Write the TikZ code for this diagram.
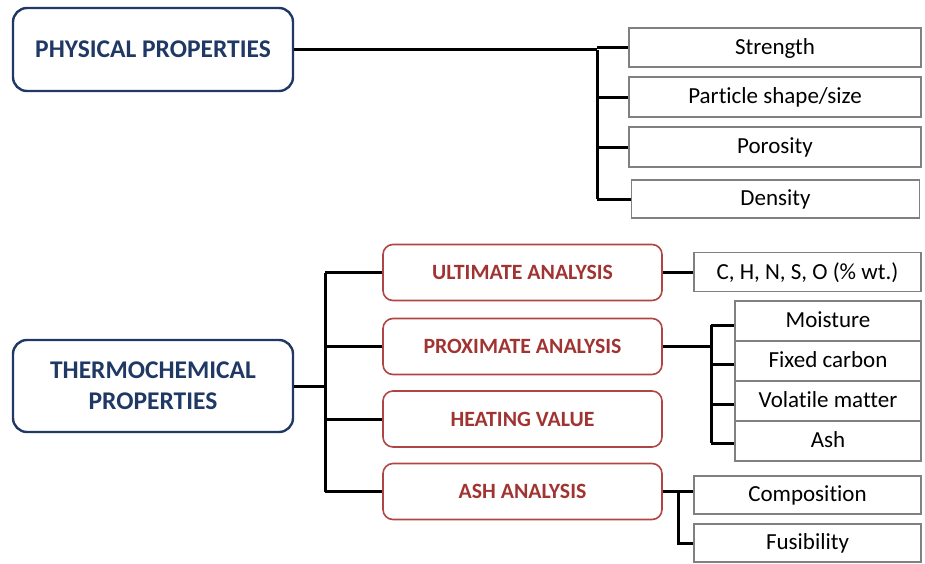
\documentclass[tikz,border=0pt]{standalone}
\usepackage{fontspec}
\setmainfont{Carlito}[Ligatures=NoCommon]
\definecolor{navy}{RGB}{31,56,100}
\definecolor{redbord}{RGB}{176,70,68}
\definecolor{redtxt}{RGB}{160,52,50}
\definecolor{graybord}{RGB}{128,128,128}
\begin{document}
\begin{tikzpicture}[x=1pt,y=-1pt,
  mainbox/.style={draw=navy,line width=2.4pt,rounded corners=14pt,text=navy,font=\fontsize{25.5}{31}\selectfont\bfseries,align=center,minimum width=280pt,inner sep=0pt},
  redbox/.style={draw=redbord,line width=1.6pt,rounded corners=10pt,text=redtxt,font=\fontsize{21.8}{24}\selectfont\bfseries,minimum width=279pt,minimum height=56pt,inner sep=0pt},
  leaf/.style={draw=graybord,line width=1.3pt,font=\fontsize{23}{26}\selectfont,minimum height=39pt,inner sep=0pt,text depth=2pt},
  conn/.style={draw=black,line width=3pt}]
\useasboundingbox (0,0) rectangle (925,563);
% physical
\node[mainbox,minimum height=83pt] (phys) at (153,49.5) {PHYSICAL PROPERTIES};
\node[leaf,minimum width=292pt] (str) at (775,47.5) {Strength};
\node[leaf,minimum width=292pt,minimum height=40pt] (part) at (775,97) {Particle shape/size};
\node[leaf,minimum width=292pt,minimum height=40pt] (por) at (775,147) {Porosity};
\node[leaf,minimum width=288pt,minimum height=38pt] (den) at (775.5,199) {Density};
\coordinate (tp) at (597,0);
\draw[conn] (phys.east) -- (phys.east -| tp);
\draw[conn] (tp |- phys.east) -- (tp |- den.west);
\draw[conn] (tp |- str.west) -- (str.west);
\draw[conn] (tp |- part.west) -- (part.west);
\draw[conn] (tp |- por.west) -- (por.west);
\draw[conn] (tp |- den.west) -- (den.west);
% thermochemical
\node[mainbox,minimum height=92pt] (thermo) at (153,386) {THERMOCHEMICAL\\PROPERTIES};
\node[redbox] (ult) at (522.5,272.5) {ULTIMATE ANALYSIS};
\node[redbox] (prox) at (522.5,346.5) {PROXIMATE ANALYSIS};
\node[redbox] (heat) at (522.5,419) {HEATING VALUE};
\node[redbox] (ash) at (522.5,491.5) {ASH ANALYSIS};
\coordinate (tt) at (325,0);
\draw[conn] (thermo.east) -- (thermo.east -| tt);
\draw[conn] (tt |- ult.west) -- (tt |- ash.west);
\draw[conn] (tt |- ult.west) -- (ult.west);
\draw[conn] (tt |- prox.west) -- (prox.west);
\draw[conn] (tt |- heat.west) -- (heat.west);
\draw[conn] (tt |- ash.west) -- (ash.west);
% ultimate
\node[leaf,minimum width=227pt] (chn) at (807.5,272) {C, H, N, S, O (\% wt.)};
\draw[conn] (ult.east) -- (ult.east -| chn.west);
% proximate
\node[leaf,minimum width=186pt,minimum height=40pt] (moist) at (828,321) {Moisture};
\node[leaf,minimum width=186pt,minimum height=40pt] (fix) at (828,361) {Fixed carbon};
\node[leaf,minimum width=186pt,minimum height=40pt] (vol) at (828,401) {Volatile matter};
\node[leaf,minimum width=186pt,minimum height=40pt] (ashc) at (828,441) {Ash};
\coordinate (tx) at (711,0);
\draw[conn] (prox.east) -- (prox.east -| tx);
\draw[conn] ([yshift=-4pt]tx |- moist.west) -- ([yshift=-2pt]tx |- ashc.west);
\draw[conn] ([yshift=-4pt]tx |- moist.west) -- ([yshift=-4pt]moist.west);
\draw[conn] ([yshift=-3pt]tx |- fix.west) -- ([yshift=-3pt]fix.west);
\draw[conn] ([yshift=-3pt]tx |- vol.west) -- ([yshift=-3pt]vol.west);
\draw[conn] ([yshift=-2pt]tx |- ashc.west) -- ([yshift=-2pt]ashc.west);
% ash analysis
\node[leaf,minimum width=227pt,minimum height=38pt] (comp) at (807.5,495) {Composition};
\node[leaf,minimum width=227pt,minimum height=38pt] (fus) at (807.5,543) {Fusibility};
\coordinate (ta) at (678,0);
\draw[conn] (ash.east) -- (ash.east -| comp.west);
\draw[conn] (ta |- ash.east) -- (ta |- fus.west) -- (fus.west);
\end{tikzpicture}
\end{document}
